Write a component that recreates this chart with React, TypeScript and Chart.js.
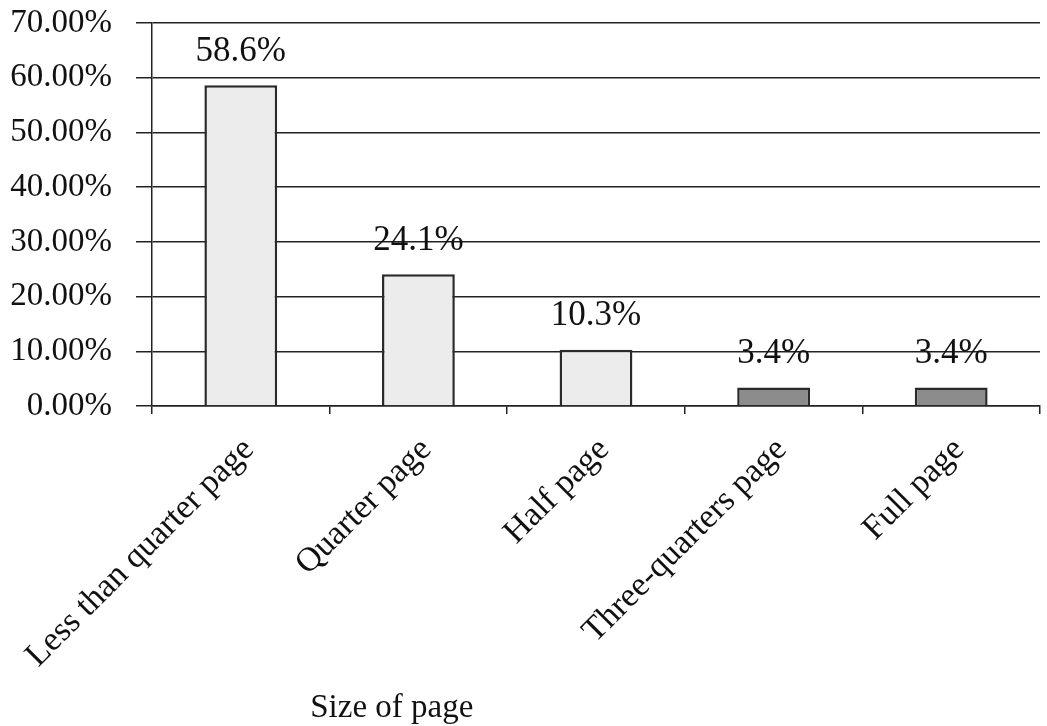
import React, { useEffect, useRef } from "react";
import { Chart, registerables } from "chart.js";

Chart.register(...registerables);

const categories = [
  "Less than quarter page",
  "Quarter page",
  "Half page",
  "Three-quarters page",
  "Full page",
];
const shares = [58.6, 24.1, 10.3, 3.4, 3.4];
const barFills = ["#ececec", "#ececec", "#ececec", "#8c8c8c", "#8c8c8c"];
const axisTitle = "Size of page";

const FONT = "'Liberation Serif', 'Times New Roman', serif";

const valueLabels = {
  id: "valueLabels",
  afterDatasetsDraw(chart: any) {
    const ctx = chart.ctx;
    const meta = chart.getDatasetMeta(0);
    ctx.save();
    ctx.font = `35px ${FONT}`;
    ctx.fillStyle = "#111";
    ctx.textAlign = "center";
    ctx.textBaseline = "bottom";
    meta.data.forEach((bar: any, i: number) => {
      ctx.fillText(`${shares[i]}%`, bar.x, bar.y - 16);
    });
    ctx.restore();
  },
};

const xTitle = {
  id: "xTitle",
  afterDraw(chart: any) {
    const ctx = chart.ctx;
    const area = chart.chartArea;
    ctx.save();
    ctx.font = `33px ${FONT}`;
    ctx.fillStyle = "#111";
    ctx.textAlign = "center";
    ctx.textBaseline = "alphabetic";
    ctx.fillText(axisTitle, area.left + (area.right - area.left) * 0.27, 717);
    ctx.restore();
  },
};

export default function App() {
  const ref = useRef<HTMLCanvasElement>(null);

  useEffect(() => {
    const chart = new Chart(ref.current!, {
      type: "bar",
      data: {
        labels: categories,
        datasets: [
          {
            data: shares,
            backgroundColor: barFills,
            borderColor: "#2a2a2a",
            borderWidth: 2.5,
            barPercentage: 0.41,
            categoryPercentage: 1,
          },
        ],
      },
      options: {
        animation: false,
        responsive: false,
        layout: { padding: { top: 23, right: 7, bottom: 0, left: 0 } },
        plugins: {
          legend: { display: false },
          tooltip: { enabled: false },
        },
        scales: {
          x: {
            afterFit(scale: any) {
              scale.height = 320;
              scale.paddingLeft = 0;
              scale.paddingRight = 0;
            },
            grid: {
              display: true,
              drawOnChartArea: false,
              offset: true,
              tickLength: 8,
              color: "#222",
              lineWidth: 1.5,
            },
            border: { display: true, color: "#222", width: 1.5 },
            ticks: {
              maxRotation: 45,
              minRotation: 45,
              padding: 16,
              labelOffset: 8,
              color: "#111",
              font: { family: FONT, size: 34 },
            },
          },
          y: {
            min: 0,
            max: 70,
            afterFit(scale: any) {
              scale.width = 152;
              scale.paddingTop = 0;
              scale.paddingBottom = 0;
            },
            grid: {
              color: "#222",
              lineWidth: 1.5,
              tickLength: 16,
            },
            border: { display: true, color: "#222", width: 1.5 },
            ticks: {
              stepSize: 10,
              padding: 24,
              color: "#111",
              font: { family: FONT, size: 33 },
              callback: (v: any) => `${Number(v).toFixed(2)}%`,
            },
          },
        },
      },
      plugins: [valueLabels, xTitle],
    });
    return () => chart.destroy();
  }, []);

  return (
    <div
      style={{
        position: "absolute",
        left: 0,
        top: 0,
        width: 1047,
        height: 726,
        background: "#fff",
      }}
    >
      <canvas ref={ref} width={1047} height={726} />
    </div>
  );
}
